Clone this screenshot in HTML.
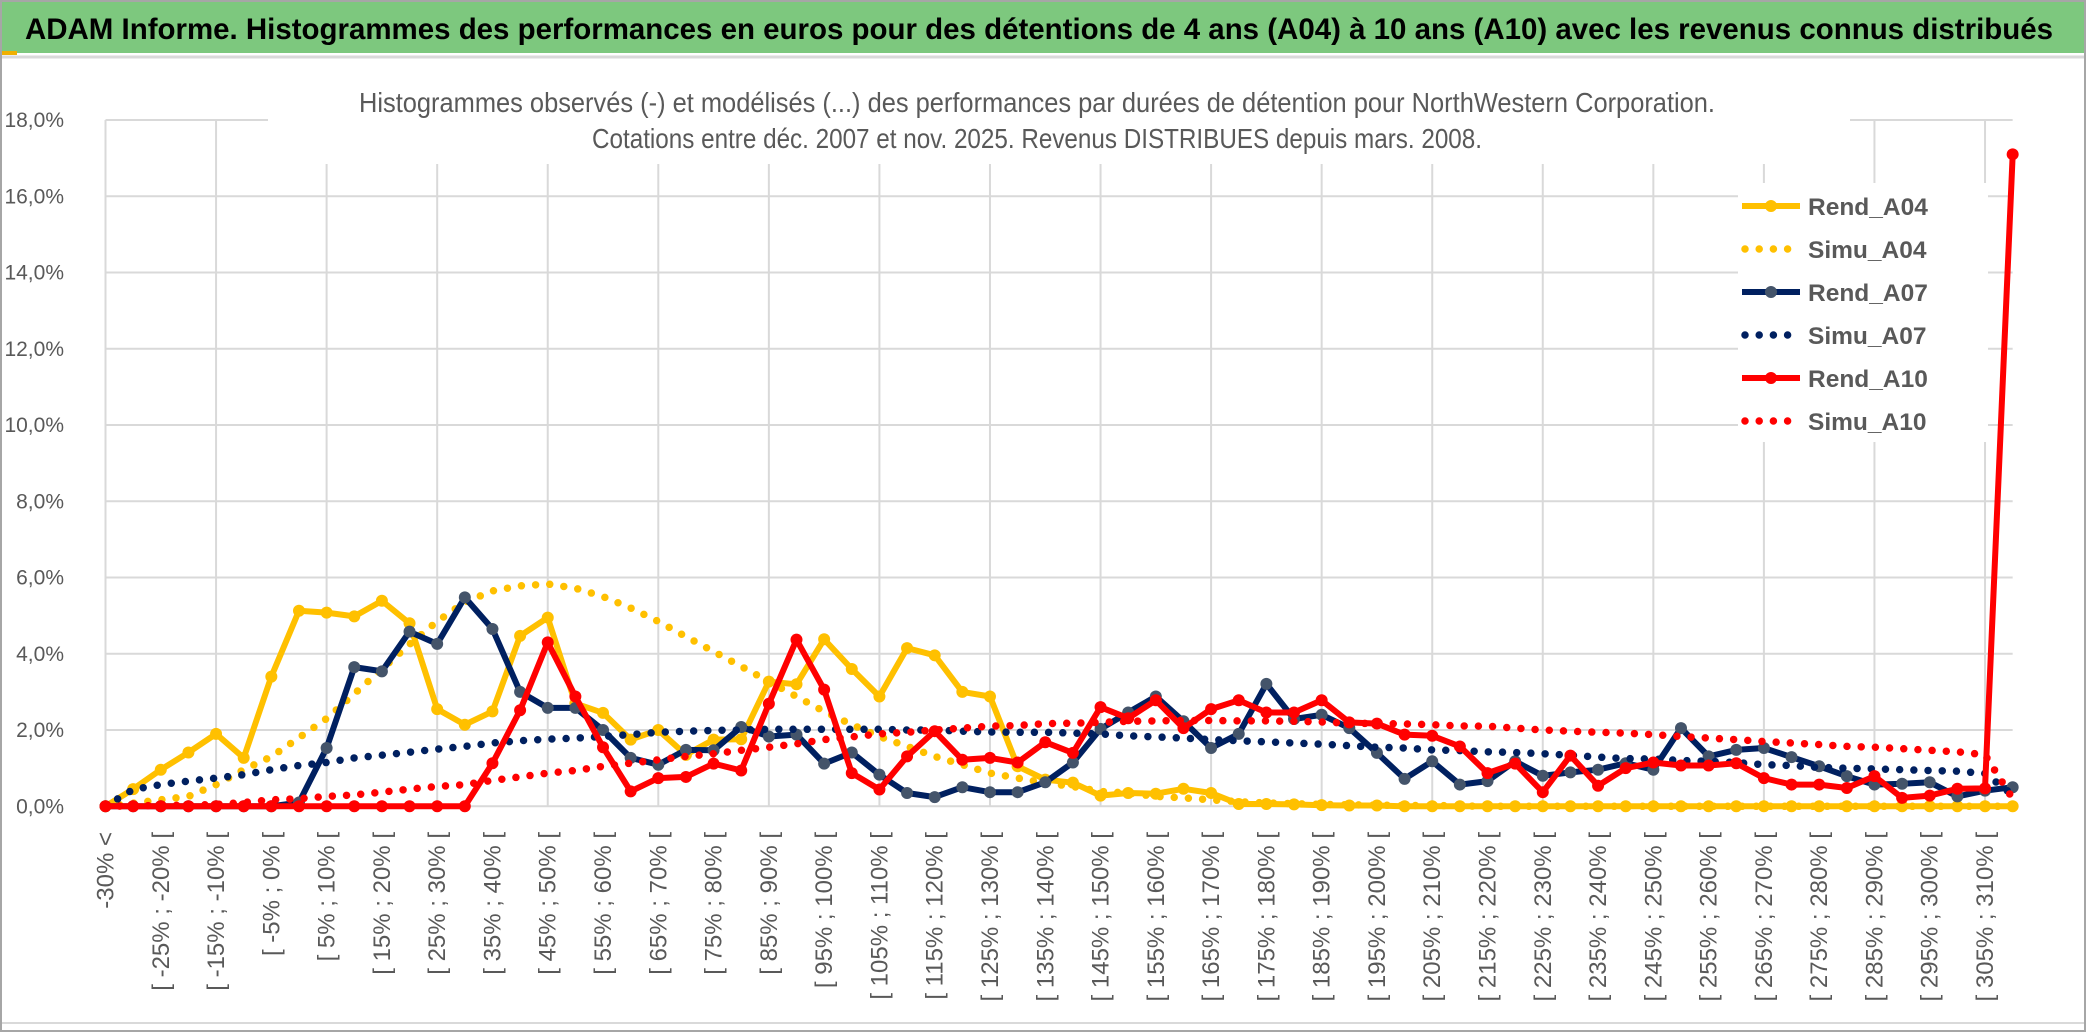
<!DOCTYPE html>
<html><head><meta charset="utf-8">
<style>
html,body{margin:0;padding:0;background:#fff;}
svg{display:block;font-family:"Liberation Sans",sans-serif;}
</style></head>
<body>
<svg id="chart" width="2086" height="1033" viewBox="0 0 2086 1033" xmlns="http://www.w3.org/2000/svg">
  <rect x="0" y="0" width="2086" height="1033" fill="#fff"/>
  <rect x="1" y="1" width="2084" height="1030" fill="none" stroke="#a6a6a6" stroke-width="2"/>
  <rect x="2" y="2" width="2082" height="51" fill="#7dc87e"/>
  <rect x="2" y="51" width="15" height="4" fill="#f0b000"/>
  <line x1="2" y1="57" x2="2084" y2="57" stroke="#d9d9d9" stroke-width="3"/>
  <text x="25" y="39" font-size="30" font-weight="bold" fill="#000" textLength="2028" lengthAdjust="spacingAndGlyphs">ADAM Informe. Histogrammes des performances en euros pour des détentions de 4 ans (A04) à 10 ans (A10) avec les revenus connus distribués</text>
  <line x1="2" y1="1023" x2="2084" y2="1023" stroke="#d9d9d9" stroke-width="2"/>
  <g id="grid"></g>
  <rect x="268" y="70" width="1582" height="94" fill="#fff"/>
  <text x="1037" y="112" font-size="28" fill="#595959" text-anchor="middle" textLength="1356" lengthAdjust="spacingAndGlyphs">Histogrammes observés (-) et modélisés (...) des performances par durées de détention pour NorthWestern Corporation.</text>
  <text x="1037" y="148" font-size="28" fill="#595959" text-anchor="middle" textLength="890" lengthAdjust="spacingAndGlyphs">Cotations entre déc. 2007 et nov. 2025. Revenus DISTRIBUES depuis mars. 2008.</text>
  <g id="yaxis"></g>
  <g id="xaxis"></g>
  <g id="series"></g>
  <g id="legend"></g>
</svg>
<script>
const rendA04 = [0,0.45,0.96,1.41,1.9,1.27,3.4,5.13,5.08,4.98,5.39,4.8,2.55,2.14,2.49,4.47,4.95,2.7,2.45,1.75,2.0,1.35,1.75,1.76,3.27,3.2,4.38,3.6,2.88,4.15,3.96,3.0,2.88,1.05,0.7,0.62,0.28,0.35,0.33,0.46,0.35,0.06,0.06,0.05,0.03,0.02,0.02,0,0,0,0,0,0,0,0,0,0,0,0,0,0,0,0,0,0,0,0,0,0,0];
const simuA04 = [0,0.08,0.17,0.26,0.57,0.96,1.3,1.8,2.3,2.95,3.6,4.25,4.85,5.35,5.65,5.78,5.83,5.72,5.5,5.2,4.85,4.45,4.06,3.67,3.27,2.88,2.49,2.14,1.83,1.57,1.31,1.09,0.87,0.74,0.61,0.52,0.39,0.35,0.26,0.22,0.17,0.12,0.09,0.07,0.05,0.04,0.03,0.02,0.02,0.01,0,0,0,0,0,0,0,0,0,0,0,0,0,0,0,0,0,0,0,0];
const rendA07 = [0,0,0,0,0,0,0,0.1,1.53,3.65,3.54,4.58,4.26,5.48,4.65,3.0,2.58,2.58,2.0,1.27,1.09,1.48,1.47,2.08,1.83,1.88,1.12,1.41,0.83,0.35,0.24,0.5,0.37,0.37,0.63,1.15,2.03,2.46,2.88,2.23,1.53,1.9,3.21,2.29,2.4,2.05,1.4,0.72,1.18,0.57,0.66,1.18,0.8,0.89,0.96,1.13,0.96,2.05,1.31,1.48,1.53,1.29,1.05,0.79,0.57,0.59,0.63,0.26,0.41,0.5];
const simuA07 = [0,0.44,0.57,0.66,0.74,0.83,0.96,1.07,1.15,1.27,1.34,1.42,1.5,1.57,1.66,1.72,1.76,1.79,1.83,1.88,1.94,1.97,1.99,2.0,2.02,2.02,2.02,2.02,2.02,2.0,2.0,1.97,1.95,1.94,1.94,1.92,1.9,1.85,1.82,1.79,1.75,1.72,1.69,1.66,1.63,1.59,1.55,1.53,1.48,1.46,1.43,1.41,1.38,1.34,1.29,1.25,1.24,1.2,1.18,1.15,1.09,1.07,1.02,1.0,0.98,0.96,0.94,0.92,0.86,0.3];
const rendA10 = [0,0,0,0,0,0,0,0,0,0,0,0,0,0,1.13,2.52,4.3,2.88,1.55,0.39,0.74,0.77,1.12,0.94,2.69,4.37,3.06,0.87,0.44,1.31,1.97,1.22,1.27,1.15,1.68,1.4,2.6,2.31,2.78,2.05,2.55,2.78,2.46,2.46,2.78,2.2,2.17,1.88,1.85,1.57,0.87,1.12,0.37,1.33,0.54,1.0,1.15,1.07,1.07,1.13,0.74,0.57,0.57,0.48,0.79,0.22,0.28,0.46,0.47,17.1];
const simuA10 = [0,0.01,0.02,0.03,0.05,0.1,0.17,0.2,0.26,0.3,0.37,0.45,0.52,0.57,0.68,0.77,0.87,0.94,1.05,1.13,1.22,1.31,1.38,1.47,1.55,1.64,1.75,1.82,1.9,1.94,2.0,2.05,2.1,2.12,2.17,2.18,2.2,2.23,2.24,2.25,2.25,2.24,2.24,2.23,2.21,2.18,2.17,2.16,2.14,2.11,2.1,2.05,2.0,1.97,1.94,1.92,1.88,1.83,1.79,1.75,1.7,1.66,1.62,1.57,1.55,1.51,1.47,1.43,1.35,0.2];
const yTicks = [0,2,4,6,8,10,12,14,16,18];
const seriesNames = ["Rend_A04","Simu_A04","Rend_A07","Simu_A07","Rend_A10","Simu_A10"];

const NS = "http://www.w3.org/2000/svg";
const X0 = 105.5, STEP = 27.64, Y0 = 806.3, YMAX = 18, PLOT_TOP = 120;
function xPos(k){ return X0 + k*STEP; }
function yPos(v){ return Y0 - (v/YMAX)*(Y0-PLOT_TOP); }
function mk(tag, attrs, parent){ const e=document.createElementNS(NS,tag); for(const a in attrs) e.setAttribute(a,attrs[a]); parent.appendChild(e); return e; }
const nCat = rendA04.length;
const xRight = xPos(nCat-1);

function catLabel(k){
  if(k===0) return "-30% <";
  const a = -35+5*k, b = a+5;
  return "[ " + a + "% ; " + b + "% [";
}

const grid = document.getElementById('grid');
yTicks.forEach(t=>{
  const l = mk('line',{x1:X0,x2:xRight,y1:yPos(t),y2:yPos(t),stroke:'#d9d9d9','stroke-width':2},grid);
  
  
});
for(let k=0;k<nCat;k+=4){
  const l = mk('line',{x1:xPos(k),x2:xPos(k),y1:PLOT_TOP,y2:Y0,stroke:'#d9d9d9','stroke-width':2},grid);
  
  
}

const yaxis = document.getElementById('yaxis');
yTicks.forEach(t=>{
  const tx = mk('text',{x:64,y:yPos(t)+7,'font-size':21,fill:'#595959','text-anchor':'end'},yaxis);
  tx.textContent = t.toFixed(1).replace('.',',')+'%';
  
  
});

const xaxis = document.getElementById('xaxis');
for(let k=0;k<nCat;k+=2){
  const x = xPos(k)+8, y = 832;
  const tx = mk('text',{x:x,y:y,'font-size':24,fill:'#595959','text-anchor':'end',transform:'rotate(-90 '+x+' '+y+')'},xaxis);
  tx.textContent = catLabel(k);
  
  
}

const seriesG = document.getElementById('series');
function ptsStr(arr){ return arr.map((v,k)=>xPos(k).toFixed(1)+','+yPos(v).toFixed(1)).join(' '); }
function solid(arr,color,markerFill,name){
  const g = mk('g',{},seriesG);
  
  
  const pl = mk('polyline',{points:ptsStr(arr),fill:'none',stroke:color,'stroke-width':6,'stroke-linejoin':'round'},g);
  
  
  arr.forEach((v,k)=>{
    const c = mk('circle',{cx:xPos(k),cy:yPos(v),r:6,fill:markerFill},g);
    
    
  });
}
function dotted(arr,color,name){
  const pl = mk('polyline',{points:ptsStr(arr),fill:'none',stroke:color,'stroke-width':7.5,'stroke-linecap':'round','stroke-dasharray':'0 14.2'},seriesG);
  
  
}
solid(rendA04,'#ffc000','#ffc000','rend-a04');
dotted(simuA04,'#ffc000','simu-a04');
solid(rendA07,'#002060','#44546a','rend-a07');
dotted(simuA07,'#002060','simu-a07');
solid(rendA10,'#ff0000','#ff0000','rend-a10');
dotted(simuA10,'#ff0000','simu-a10');

const legend = document.getElementById('legend');
const lb = mk('rect',{x:1738,y:183,width:250,height:259,fill:'#fff'},legend);


const legStyles = [['#ffc000','#ffc000',false],['#ffc000',null,true],['#002060','#44546a',false],['#002060',null,true],['#ff0000','#ff0000',false],['#ff0000',null,true]];
const legY = [206,249,292,335,378,421];
seriesNames.forEach((nm,i)=>{
  const g = mk('g',{},legend);
  
  
  const y = legY[i];
  const st = legStyles[i];
  if(st[2]){
    mk('line',{x1:1745,x2:1800,y1:y,y2:y,stroke:st[0],'stroke-width':7.5,'stroke-linecap':'round','stroke-dasharray':'0 14.2'},g);
  } else {
    mk('line',{x1:1742,x2:1800,y1:y,y2:y,stroke:st[0],'stroke-width':6},g);
    mk('circle',{cx:1771,cy:y,r:6,fill:st[1]},g);
  }
  const t = mk('text',{x:1808,y:y+9,'font-size':24.5,'font-weight':'bold',fill:'#595959'},g);
  t.textContent = nm;
  
  
});
</script>
</body></html>
